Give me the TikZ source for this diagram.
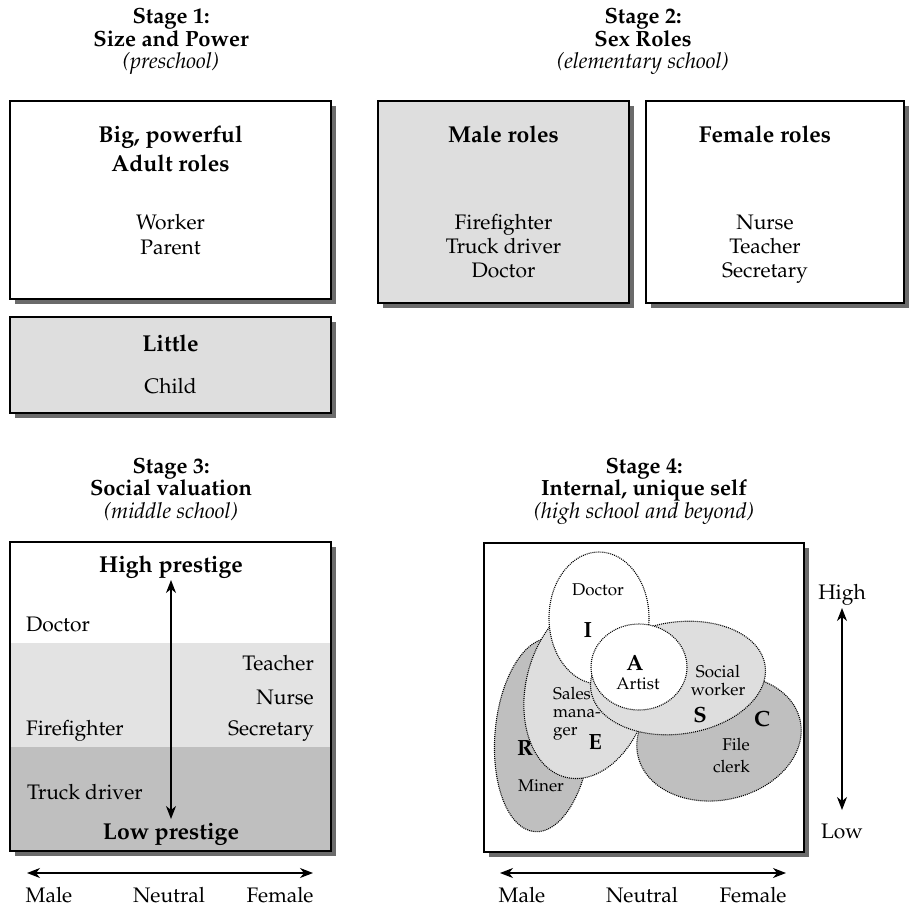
\documentclass[tikz,border=0pt]{standalone}
\usepackage[T1]{fontenc}
\usepackage{mathpazo}
\usetikzlibrary{arrows.meta}
\definecolor{shadowg}{gray}{0.42}
\definecolor{lightg}{gray}{0.87}
\definecolor{midg}{gray}{0.89}
\definecolor{darkg}{gray}{0.75}
\newcommand\fTitle{\fontsize{22}{24}\selectfont\bfseries}
\newcommand\fSub{\fontsize{22}{24}\selectfont\itshape}
\newcommand\fHead{\fontsize{23}{26}\selectfont\bfseries}
\newcommand\fBody{\fontsize{21}{25}\selectfont}
\newcommand\fSmall{\fontsize{17}{20}\selectfont}
\newcommand\fLetter{\fontsize{22}{24}\selectfont\bfseries}
\begin{document}
\begin{tikzpicture}[x=1pt,y=-1pt,
  txt/.style={inner sep=0pt, anchor=base},
  ttl/.style={txt, font=\fTitle},
  sub/.style={txt, font=\fSub},
  head/.style={txt, font=\fHead},
  body/.style={txt, font=\fBody},
  small/.style={txt, font=\fSmall},
  letter/.style={txt, font=\fLetter},
  frame/.style={draw=black, line width=1.5pt},
  shade/.style={fill=shadowg},
  dots/.style={draw=black, line width=1.1pt, dash pattern=on 1pt off 1pt},
  dbl/.style={line width=1.2pt, {Stealth[length=13pt,width=10pt,inset=4pt]}-{Stealth[length=13pt,width=10pt,inset=4pt]}},
]
\useasboundingbox (0,0) rectangle (912,916);

% ---------- Stage 1 ----------
\node[ttl] (s1a) at (171,23) {Stage 1:};
\node[ttl] (s1b) at (171,46) {Size and Power};
\node[sub] (s1c) at (171,68) {(preschool)};

\fill[shade] (15,106) rectangle (336,304);
\draw[frame, fill=white] (10,101) rectangle (331,299);
\node[head] (b1a) at (170.5,142) {Big, powerful};
\node[head] (b1b) at (170.5,171) {Adult roles};
\node[body] (b1c) at (170.5,229) {Worker};
\node[body] (b1d) at (170.5,254) {Parent};

\fill[shade] (15,322) rectangle (336,418);
\draw[frame, fill=lightg] (10,317) rectangle (331,413);
\node[head] (b2a) at (170.5,351) {Little};
\node[body] (b2b) at (170.5,393) {Child};

% ---------- Stage 2 ----------
\node[ttl] (s2a) at (643,23) {Stage 2:};
\node[ttl] (s2b) at (643,46) {Sex Roles};
\node[sub] (s2c) at (643,68) {(elementary school)};

\fill[shade] (383,106) rectangle (634,308);
\draw[frame, fill=lightg] (378,101) rectangle (629,303);
\node[head] (m0) at (503.5,142) {Male roles};
\node[body] (m1) at (503.5,229) {Firefighter};
\node[body] (m2) at (503.5,253) {Truck driver};
\node[body] (m3) at (503.5,277) {Doctor};

\fill[shade] (651,106) rectangle (909,308);
\draw[frame, fill=white] (646,101) rectangle (904,303);
\node[head] (f0) at (765,142) {Female roles};
\node[body] (f1) at (765,229) {Nurse};
\node[body] (f2) at (765,253) {Teacher};
\node[body] (f3) at (765,277) {Secretary};

% ---------- Stage 3 ----------
\node[ttl] (s3a) at (171,473) {Stage 3:};
\node[ttl] (s3b) at (171,495) {Social valuation};
\node[sub] (s3c) at (171,518) {(middle school)};

\fill[shade] (15,547) rectangle (336,856);
\fill[white] (10,542) rectangle (331,643);
\fill[midg] (10,643) rectangle (331,747);
\fill[darkg] (10,747) rectangle (331,851);
\draw[frame] (10,542) rectangle (331,851);

\node[head] (hp) at (171,572) {High prestige};
\node[body, anchor=base west] (t1) at (26,631) {Doctor};
\node[body, anchor=base east] (t2) at (314,670) {Teacher};
\node[body, anchor=base east] (t3) at (314,704) {Nurse};
\node[body, anchor=base east] (t4) at (314,735) {Secretary};
\node[body, anchor=base west] (t5) at (26,735) {Firefighter};
\node[body, anchor=base west] (t6) at (27,799) {Truck driver};
\node[head] (lp) at (171,839) {Low prestige};
\coordinate (s3top) at (171,580);
\coordinate (s3bot) at (171,819);
\draw[dbl] (s3top) -- (s3bot);

\coordinate (s3l) at (27,873);
\coordinate (s3r) at (313,873);
\draw[dbl] (s3l) -- (s3r);
\node[body] (x1) at (49,902) {Male};
\node[body] (x2) at (169,902) {Neutral};
\node[body] (x3) at (280,902) {Female};

% ---------- Stage 4 ----------
\node[ttl] (s4a) at (644,473) {Stage 4:};
\node[ttl] (s4b) at (644,495) {Internal, unique self};
\node[sub] (s4c) at (644,518) {(high school and beyond)};

\fill[shade] (489,548) rectangle (809,857);
\draw[frame, fill=white] (484,543) rectangle (804,852);

\begin{scope}[shift={(543,735)}, rotate=-5]
  \path[dots, fill=darkg] (0,0) ellipse [x radius=48, y radius=97];
\end{scope}
\begin{scope}[shift={(719,738)}, rotate=12]
  \path[dots, fill=darkg] (0,0) ellipse [x radius=83, y radius=62];
\end{scope}
\begin{scope}[shift={(588,688)}, rotate=-14]
  \path[dots, fill=lightg] (0,0) ellipse [x radius=62, y radius=92];
\end{scope}
\begin{scope}[shift={(599,618)}]
  \path[dots, fill=white] (0,0) ellipse [x radius=50, y radius=66];
\end{scope}
\begin{scope}[shift={(678,678)}, rotate=8]
  \path[dots, fill=lightg] (0,0) ellipse [x radius=88, y radius=56];
\end{scope}
\begin{scope}[shift={(639,667)}]
  \path[dots, fill=white] (0,0) ellipse [x radius=48, y radius=43];
\end{scope}

\node[small] (e1) at (598,595) {Doctor};
\node[letter] (e2) at (588,637) {I};
\node[letter] (e3) at (635,670) {A};
\node[small] (e4) at (638,689) {Artist};
\node[small] (e5) at (718,677) {Social};
\node[small] (e6) at (718,695) {worker};
\node[letter] (e7) at (700,722) {S};
\node[letter] (e8) at (762,726) {C};
\node[small, anchor=base west] (e9) at (553,699) {Sales};
\node[small, anchor=base west] (e10) at (553,717) {mana-};
\node[small, anchor=base west] (e11) at (553,735) {ger};
\node[letter] (e12) at (595,749) {E};
\node[letter] (e13) at (525,755) {R};
\node[small, anchor=base east] (e14) at (750,750) {File};
\node[small, anchor=base east] (e15) at (750,772) {clerk};
\node[small] (e16) at (541,791) {Miner};

\node[body] (hi) at (842,599) {High};
\node[body] (lo) at (842,838) {Low};
\coordinate (s4top) at (842,608);
\coordinate (s4bot) at (842,810);
\draw[dbl] (s4top) -- (s4bot);

\coordinate (s4l) at (500,873);
\coordinate (s4r) at (786,873);
\draw[dbl] (s4l) -- (s4r);
\node[body] (y1) at (522,902) {Male};
\node[body] (y2) at (642,902) {Neutral};
\node[body] (y3) at (753,902) {Female};
\end{tikzpicture}
\end{document}
